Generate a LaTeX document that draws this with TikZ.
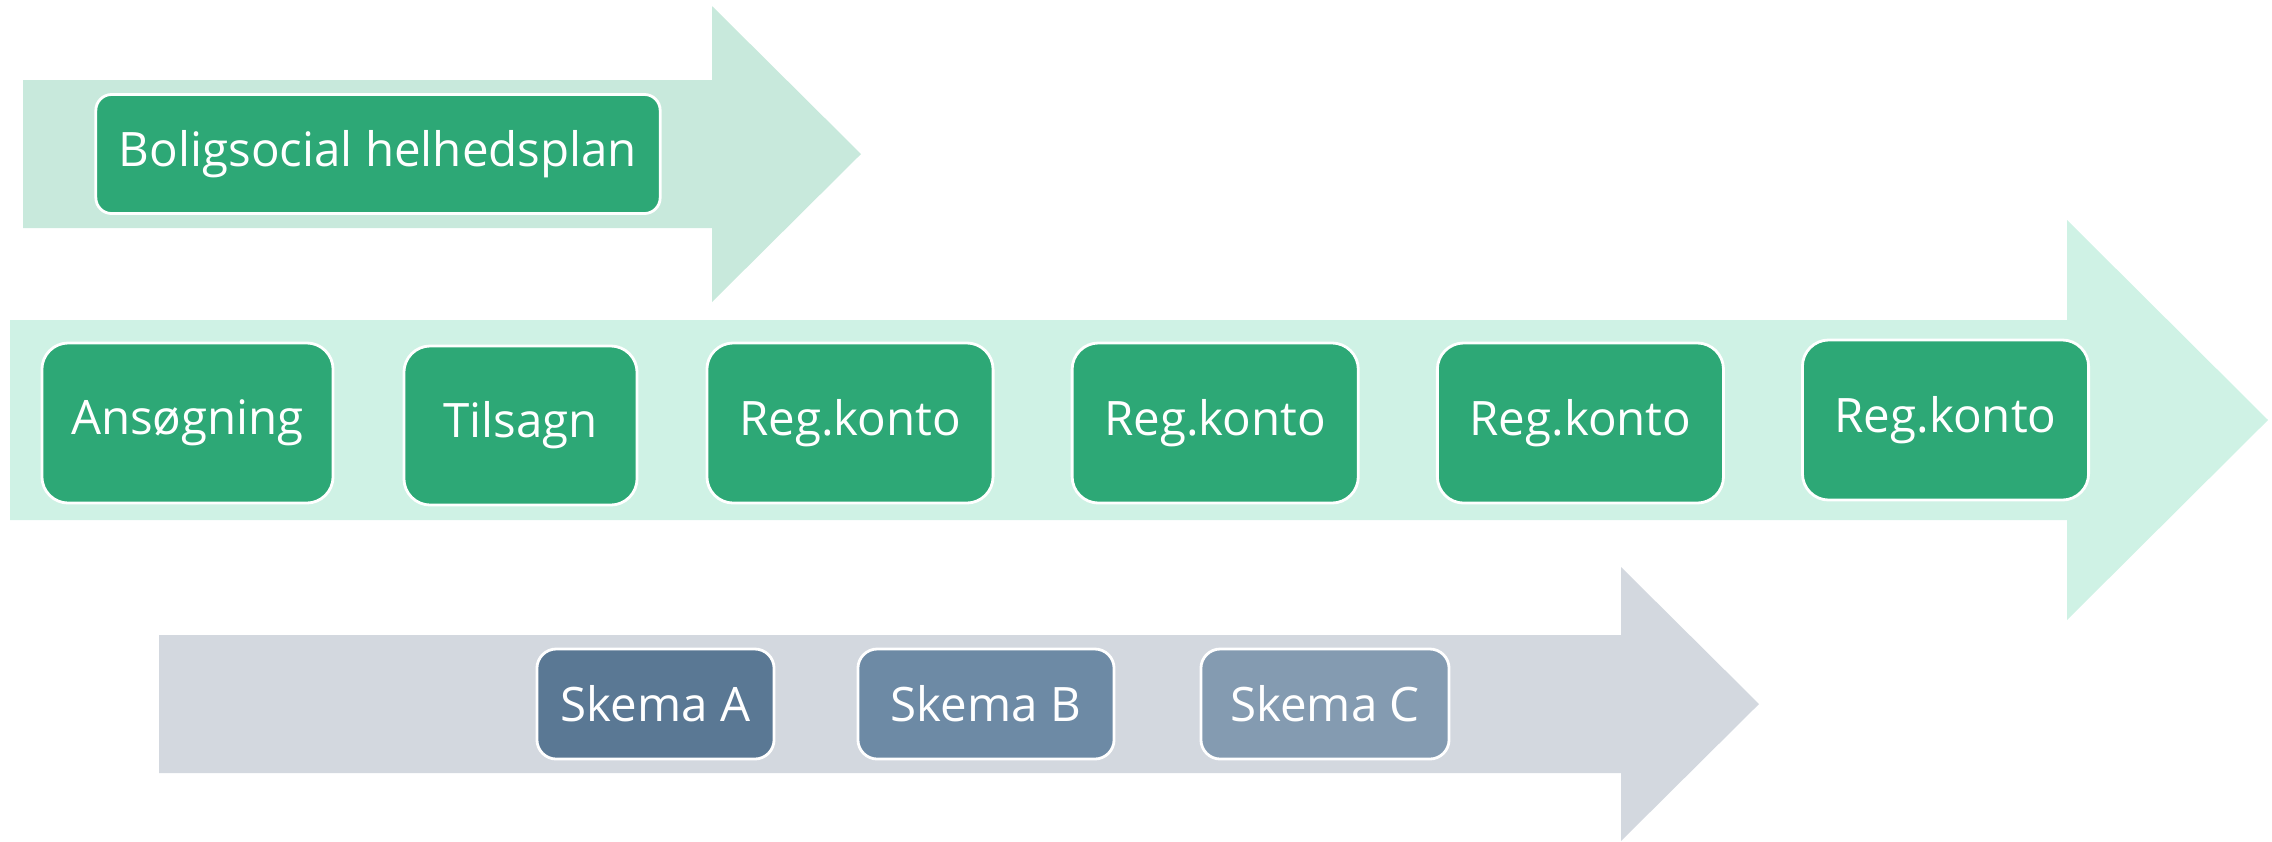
\documentclass[tikz,border=0pt]{standalone}
\usepackage{fontspec}
\setmainfont{Open Sans}
\usepackage{tikz}
\usetikzlibrary{positioning}

\definecolor{planbg}{HTML}{C8E9DC}
\definecolor{flowbg}{HTML}{CFF2E5}
\definecolor{skemabg}{HTML}{D3D8DF}
\definecolor{stepgreen}{HTML}{2DA876}
\definecolor{skemaA}{HTML}{5A7894}
\definecolor{skemaB}{HTML}{6D8AA5}
\definecolor{skemaC}{HTML}{849BB1}

\tikzset{
  box/.style={rectangle, draw=white, line width=0.8pt, text=white,
    font=\fontsize{13.5}{16}\selectfont, inner sep=0pt},
  greenbox/.style={box, fill=stepgreen, rounded corners=7.5pt,
    minimum width=2.86cm, minimum height=1.6cm},
  skemabox/.style={box, rounded corners=5.5pt, minimum height=1.1cm}
}

\begin{document}
\begin{tikzpicture}[x=0.01cm, y=-0.01cm]
      \useasboundingbox (0,0) rectangle (2272,841);
      % the three big arrows
      \fill[planbg] (23,80) -- (712,80) -- (712,6) -- (861,154) -- (712,302) -- (712,228) -- (23,228) -- cycle;
      \fill[flowbg] (10,320) -- (2067,320) -- (2067,220) -- (2268,420) -- (2067,620) -- (2067,520) -- (10,520) -- cycle;
      \fill[skemabg] (159,635) -- (1621,635) -- (1621,567) -- (1759,704) -- (1621,841) -- (1621,773) -- (159,773) -- cycle;

      \node[greenbox, rounded corners=4.5pt, minimum width=5.64cm, minimum height=1.19cm] (plan) at (378,154) {Boligsocial helhedsplan};

      \node[greenbox, minimum width=2.91cm] (ans) at (187.5,423) {Ansøgning};
      \node[greenbox, minimum width=2.33cm, minimum height=1.59cm] (tils) at (520.5,425.5) {Tilsagn};
      \node[greenbox] (reg1) at (850,423) {Reg.konto};
      \node[greenbox] (reg2) [on grid, right=3.65cm of reg1] {Reg.konto};
      \node[greenbox] (reg3) [on grid, right=3.65cm of reg2] {Reg.konto};
      \node[greenbox] (reg4) at (1945.5,420) {Reg.konto};

      \node[skemabox, fill=skemaA, minimum width=2.37cm] (skA) at (655.5,704) {Skema A};
      \node[skemabox, fill=skemaB, minimum width=2.56cm] (skB) at (986,704) {Skema B};
      \node[skemabox, fill=skemaC, minimum width=2.48cm] (skC) at (1325,704) {Skema C};
    \end{tikzpicture}
\end{document}
